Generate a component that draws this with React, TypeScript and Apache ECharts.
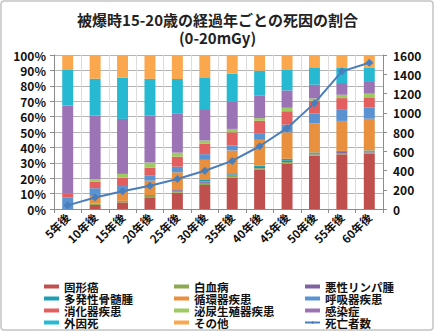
import React, { useEffect, useRef } from "react";
import * as echarts from "echarts";

const categories = ["5年後", "10年後", "15年後", "20年後", "25年後", "30年後", "35年後", "40年後", "45年後", "50年後", "55年後", "60年後"];

const solidCancer = [0, 2.6, 4.3, 7.6, 10.6, 15.6, 20.4, 25.4, 29.3, 34.7, 35.5, 35.8];
const leukemia = [0, 1.0, 1.0, 1.0, 1.2, 1.4, 1.3, 1.1, 1.2, 0.8, 0.9, 0.9];
const lymphoma = [0, 0, 0, 0.5, 0.5, 0.8, 0.7, 0.8, 0.8, 0.7, 0.7, 0.7];
const myeloma = [0, 0, 0, 0, 0.5, 1.5, 0.8, 0.9, 1.3, 0.5, 0.6, 0.6];
const circulatory = [0, 4.9, 5.9, 9.3, 11.0, 12.6, 14.8, 16.7, 17.2, 18.9, 19.5, 20.6];
const respiratory = [7.6, 5.0, 3.7, 3.5, 3.7, 3.7, 3.3, 3.9, 5.0, 6.5, 7.2, 7.4];
const digestive = [2.6, 4.3, 5.5, 5.0, 6.5, 6.7, 8.5, 8.5, 8.7, 8.2, 7.6, 6.5];
const urogenital = [0, 1.5, 2.4, 3.3, 2.6, 2.2, 2.2, 1.7, 2.2, 1.5, 2.2, 2.4];
const infection = [57.0, 41.5, 35.7, 30.6, 25.2, 20.4, 17.6, 14.8, 11.3, 8.9, 7.6, 7.6];
const external = [23.5, 23.8, 26.7, 23.7, 22.6, 20.6, 18.3, 16.0, 13.7, 11.3, 9.8, 9.1];
const other = [9.3, 15.4, 14.8, 15.5, 15.6, 14.5, 12.1, 10.2, 9.3, 8.0, 8.4, 8.4];
const deaths = [38, 120, 185, 242, 312, 398, 500, 652, 840, 1100, 1430, 1520];

const leftTicks = [0, 10, 20, 30, 40, 50, 60, 70, 80, 90, 100];
const rightTicks = [0, 200, 400, 600, 800, 1000, 1200, 1400, 1600];

const barSeries: [string, number[], string][] = [
  ["固形癌", solidCancer, "#C0504D"],
  ["白血病", leukemia, "#8DAA52"],
  ["悪性リンパ腫", lymphoma, "#7E62A1"],
  ["多発性骨髄腫", myeloma, "#1E9EB2"],
  ["循環器疾患", circulatory, "#E8903E"],
  ["呼吸器疾患", respiratory, "#5A92D2"],
  ["消化器疾患", digestive, "#E35E5E"],
  ["泌尿生殖器疾患", urogenital, "#9DCB62"],
  ["感染症", infection, "#9C74B6"],
  ["外因死", external, "#27B9D2"],
  ["その他", other, "#FBA74E"],
];
const lineName = "死亡者数";
const lineColor = "#4A7EBB";

const FONT = "'Noto Sans CJK JP', 'Noto Sans', sans-serif";

export default function App() {
  const ref = useRef<HTMLDivElement>(null);
  useEffect(() => {
    if (!ref.current) return;
    const chart = echarts.init(ref.current, undefined, { renderer: "svg" });
    const legendNames = [...barSeries.map((s) => s[0]), lineName];
    const cols = [0, 1, 2].map((c) => legendNames.filter((_, i) => i % 3 === c));
    const colLeft = [44, 174, 304];
    const legendText = { fontSize: 11.5, fontWeight: "bold" as const, color: "#111", fontFamily: FONT, lineHeight: 12 };
    chart.setOption({
      animation: false,
      textStyle: { fontFamily: FONT },
      title: {
        text: "被爆時15-20歳の経過年ごとの死因の割合\n(0-20mGy)",
        left: "center",
        top: 5,
        textStyle: { fontSize: 15, fontWeight: "bold", color: "#222", lineHeight: 18, fontFamily: FONT },
      },
      graphic: [
        {
          type: "rect",
          shape: { x: 1, y: 1, width: 432, height: 329, r: 3 },
          style: { fill: "none", stroke: "#c4c4c4", lineWidth: 1.5 },
          silent: true,
        },
      ],
      legend: cols.map((names, c) => ({
        type: "plain",
        orient: "vertical",
        left: colLeft[c],
        top: 280.5,
        width: 125,
        height: 60,
        padding: 0,
        itemGap: 0,
        itemWidth: 15,
        itemHeight: 4,
        textStyle: legendText,
        selectedMode: false,
        data: names.map((n) => (n === lineName ? { name: n } : { name: n, icon: "rect" })),
      })),
      grid: { left: 54, right: 52, top: 55, bottom: 123 },
      xAxis: {
        type: "category",
        data: categories,
        axisLine: { lineStyle: { color: "#8c8c8c" } },
        axisTick: { show: true, length: 4, lineStyle: { color: "#8c8c8c" } },
        splitLine: { show: true, lineStyle: { color: "#dcdcdc" } },
        axisLabel: { rotate: 45, fontSize: 11.5, fontWeight: "bold", color: "#111", margin: 6, fontFamily: FONT },
      },
      yAxis: [
        {
          type: "value",
          min: leftTicks[0],
          max: leftTicks[leftTicks.length - 1],
          interval: 10,
          axisLine: { show: true, lineStyle: { color: "#8c8c8c" } },
          axisTick: { show: true, length: 4, lineStyle: { color: "#8c8c8c" } },
          splitLine: { show: true, lineStyle: { color: "#b4b4b4" } },
          axisLabel: { formatter: "{value}%", fontSize: 12, fontWeight: "bold", color: "#111", margin: 8, fontFamily: FONT },
        },
        {
          type: "value",
          min: rightTicks[0],
          max: rightTicks[rightTicks.length - 1],
          interval: 200,
          axisLine: { show: true, lineStyle: { color: "#8c8c8c" } },
          axisTick: { show: true, length: 4, lineStyle: { color: "#8c8c8c" } },
          splitLine: { show: false },
          axisLabel: { formatter: (v: number) => String(v), fontSize: 12, fontWeight: "bold", color: "#111", margin: 10, fontFamily: FONT },
        },
      ],
      series: [
        ...barSeries.map(([name, data, color]) => ({
          name,
          type: "bar",
          stack: "total",
          data,
          barWidth: "40%",
          itemStyle: { color },
        })),
        {
          name: lineName,
          type: "line",
          yAxisIndex: 1,
          data: deaths,
          symbol: "diamond",
          symbolSize: 8,
          lineStyle: { color: lineColor, width: 2 },
          itemStyle: { color: lineColor },
          z: 5,
        },
      ],
    });
    return () => chart.dispose();
  }, []);
  return (
    <div
      ref={ref}
      style={{ position: "absolute", left: 0, top: 0, width: 435, height: 332, background: "#fff" }}
    />
  );
}
